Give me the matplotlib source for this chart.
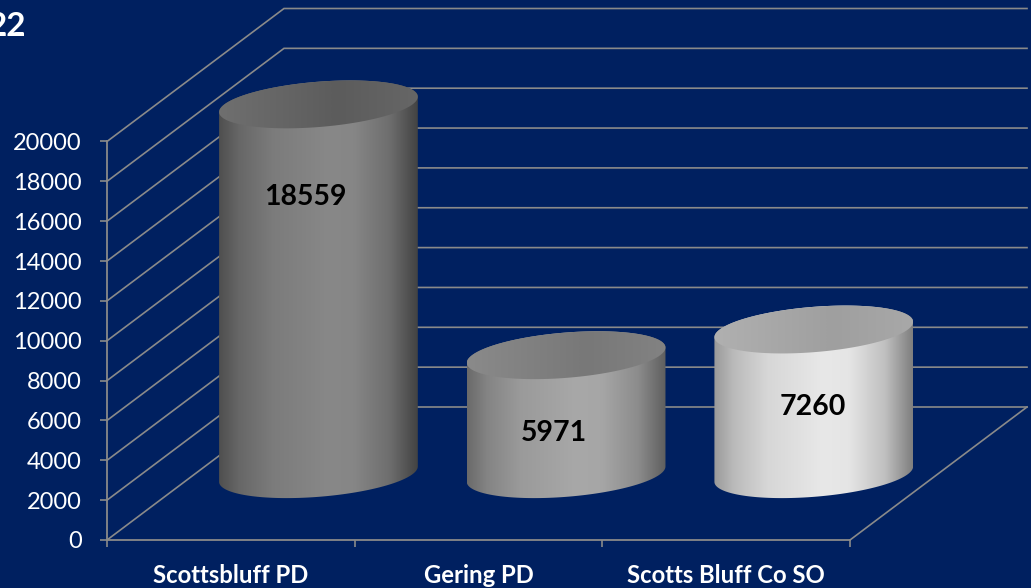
import numpy as np
import matplotlib
matplotlib.use("Agg")
import matplotlib.pyplot as plt
from matplotlib.colors import LinearSegmentedColormap, to_rgb
from matplotlib.patches import Polygon

categories = ["Scottsbluff PD", "Gering PD", "Scotts Bluff Co SO"]
values = [18559, 5971, 7260]
y_ticks = list(range(0, 20001, 2000))
title_fragment = "22"

body_dark = ["#4f4f4f", "#6a6a6a", "#9a9a9a"]
body_mid = ["#888888", "#a8a8a8", "#e8e8e8"]
body_end = ["#434343", "#5f5f5f", "#7f7f7f"]
cap_left = ["#6f6f6f", "#8a8a8a", "#b0b0b0"]
cap_mid = ["#5c5c5c", "#787878", "#9f9f9f"]
cap_right = ["#666666", "#828282", "#a8a8a8"]

BG = "#002060"
GRID = "#8a8a8a"
W, H = 1031, 588
plt.rcParams["font.family"] = ["Lato", "DejaVu Sans"]

fig = plt.figure(figsize=(W / 100, H / 100), dpi=100, facecolor=BG)
ax = fig.add_axes([107 / W, (H - 540) / H, 743 / W, 398.5 / H], facecolor="none")
ax.set_xlim(0, 3)
ax.set_ylim(0, 20000)

# oblique depth vector, in data units per full depth
px_x = 3 / 743
px_y = 20000 / 398.5
DX = 177 * px_x
DY = 133 * px_y
DEPTH_C = 0.495
HALF_W = 0.38
HALF_D = 0.18


def project(cat, val, depth):
    return cat + depth * DX, val + depth * DY


def mix(a, b, w):
    a, b = np.array(to_rgb(a)), np.array(to_rgb(b))
    return tuple(a + (b - a) * w)


# walls
for v in y_ticks:
    x0, y0 = project(0, v, 0)
    x1, y1 = project(0, v, 1)
    x2, y2 = project(3, v, 1)
    ax.plot([x0, x1, x2], [y0, y1, y2], color=GRID, lw=1.2, clip_on=False, zorder=1,
            solid_joinstyle="miter")
x1, y1 = project(3, 0, 1)
x0, y0 = project(3, 0, 0)
ax.plot([x0, x1], [y0, y1], color=GRID, lw=1.2, clip_on=False, zorder=1)


def rim(cat, val, thetas):
    x, y = project(cat + HALF_W * np.cos(thetas), val, DEPTH_C + HALF_D * np.sin(thetas))
    return np.column_stack([x, y])


for i, v in enumerate(values):
    cat = i + 0.5
    t_ext = np.arctan2(HALF_D * DX, HALF_W)
    full = np.linspace(0, 2 * np.pi, 361)
    front = np.linspace(np.pi + t_ext, 2 * np.pi + t_ext, 181)
    back = np.linspace(t_ext, np.pi + t_ext, 181)
    base = rim(cat, 0, front)
    top_back = rim(cat, v, back)
    body = Polygon(np.vstack([base, top_back]), closed=True, transform=ax.transData,
                   facecolor="none", edgecolor="none")
    ax.add_patch(body)
    half = np.hypot(HALF_W, HALF_D * DX)
    cx = cat + DEPTH_C * DX
    d, m, e = body_dark[i], body_mid[i], body_end[i]
    cmap = LinearSegmentedColormap.from_list(
        "b", [(0, d), (0.1, mix(d, m, 0.42)), (0.27, mix(d, m, 0.78)), (0.55, m),
              (0.68, mix(e, m, 0.97)), (0.86, mix(e, m, 0.62)), (1, e)])
    ylow = project(0, 0, DEPTH_C - HALF_D)[1] - 100
    yhigh = project(0, v, DEPTH_C + HALF_D)[1] + 100
    im = ax.imshow(np.linspace(0, 1, 256)[None, :], cmap=cmap, aspect="auto",
                   extent=[cx - half, cx + half, ylow, yhigh], zorder=3,
                   interpolation="bilinear")
    im.set_clip_box(fig.bbox)
    im.set_clip_path(body)

    cap = Polygon(rim(cat, v, full), closed=True, transform=ax.transData,
                  facecolor="none", edgecolor="none")
    ax.add_patch(cap)
    cap_map = LinearSegmentedColormap.from_list(
        "c", [(0, cap_left[i]), (0.6, cap_mid[i]), (1, cap_right[i])])
    cap_im = ax.imshow(np.linspace(0, 1, 64)[None, :], cmap=cap_map, aspect="auto",
                       extent=[cx - half, cx + half, ylow, yhigh], zorder=4,
                       interpolation="bilinear")
    cap_im.set_clip_box(fig.bbox)
    cap_im.set_clip_path(cap)

ax.set_xlim(0, 3)
ax.set_ylim(0, 20000)

# data labels, placed relative to each bar's top centre
label_offsets = [(-13, -93), (-12, -78), (-1, -77)]
for i, v in enumerate(values):
    lx, ly = project(i + 0.5, v, DEPTH_C)
    ox, oy = label_offsets[i]
    ax.text(lx + ox * px_x, ly + oy * px_y, str(v), ha="center", va="center",
            fontsize=20.5, fontweight="bold", color="black", zorder=6, clip_on=False)

for s in ("top", "right"):
    ax.spines[s].set_visible(False)
for s in ("left", "bottom"):
    ax.spines[s].set_color(GRID)
    ax.spines[s].set_linewidth(1.3)
    ax.spines[s].set_zorder(2)

ax.set_yticks(y_ticks)
ax.set_yticklabels([str(t) for t in y_ticks])
ax.tick_params(axis="y", direction="out", length=5, width=1.2, color=GRID, pad=13.2,
               labelsize=17, labelcolor="white")
ax.set_xticks([0, 1, 2, 3])
ax.set_xticklabels([])
ax.set_xticks([0.5, 1.5, 2.5], minor=True)
ax.set_xticklabels(categories, minor=True)
ax.tick_params(axis="x", which="major", direction="out", length=5, width=1.2, color=GRID)
ax.tick_params(axis="x", which="minor", length=0, pad=17.5, labelsize=17.2, labelcolor="white")
for t in ax.get_xticklabels(minor=True):
    t.set_fontweight("bold")

fig.text(26 / W, 1 - 35.5 / H, title_fragment, ha="right", va="baseline", color="white",
         fontsize=24, fontweight="bold")

fig.savefig("out.png", dpi=100, facecolor=BG)
